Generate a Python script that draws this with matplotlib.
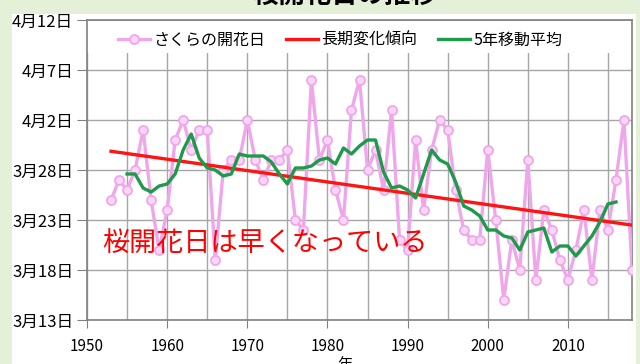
import numpy as np
import matplotlib
matplotlib.use("Agg")
import matplotlib.pyplot as plt
from matplotlib.patches import Rectangle
from matplotlib.lines import Line2D

plt.rcParams['font.family'] = ['Noto Sans CJK JP', 'DejaVu Sans']

# ── データ ─────────────────────────────────────────────
# 開花日は「3月の何日目か」で表す (4月2日 = 33)
years = list(range(1953, 2019))
bloom_day = [25, 27, 26, 28, 32, 25, 20, 24, 31, 33,
             30, 32, 32, 19, 28, 29, 29, 33, 29, 27,
             29, 29, 30, 23, 22, 37, 29, 31, 26, 23,
             34, 37, 28, 30, 26, 34, 21, 20, 31, 24,
             30, 33, 32, 26, 22, 21, 21, 30, 23, 15,
             21, 18, 29, 17, 24, 22, 19, 17, 20, 24,
             17, 24, 22, 27, 33, 18]

y_ticks = [13, 18, 23, 28, 33, 38, 43]
y_labels = ['3月13日', '3月18日', '3月23日', '3月28日', '4月2日', '4月7日', '4月12日']
x_ticks = [1950, 1960, 1970, 1980, 1990, 2000, 2010]

title = '桜開花日の推移'
note = '桜開花日は早くなっている'
names = ['さくらの開花日', '長期変化傾向', '5年移動平均']

pink = '#f0a6ea'
pink_face = '#f9d6f5'
red = '#ff1414'
green = '#1e9a4a'

# ── 計算 ─────────────────────────────────────────────
yr = np.array(years)
day = np.array(bloom_day, dtype=float)
coef = np.polyfit(yr, day, 1)
trend = np.polyval(coef, yr)
ma = np.convolve(day, np.ones(5) / 5, mode='valid')   # 中心5年移動平均
ma_years = yr[2:-2]

# ── 描画 ─────────────────────────────────────────────
fig = plt.figure(figsize=(6.4, 3.64), dpi=100, facecolor='#e4f0d8')
fig.patches.append(Rectangle((12 / 640, 0), 624 / 640, 1 - 14 / 364,
                             transform=fig.transFigure, facecolor='white',
                             edgecolor='none', zorder=-5))
ax = fig.add_axes([87 / 640, 1 - 320 / 364, 545 / 640, 300 / 364])
ax.set_zorder(3)
ax.set_facecolor('white')

ax.plot(yr, day, color=pink, lw=2.4, marker='o', ms=6.5,
        mfc=pink_face, mec=pink, mew=1.3, zorder=3)
ax.plot(yr, trend, color=red, lw=2.4, zorder=4)
ax.plot(ma_years, ma, color=green, lw=2.4, zorder=5)

ax.set_xlim(1950, 2018)
ax.set_ylim(13, 43)
ax.set_xticks(x_ticks)
ax.set_xticks(np.arange(1955, 2018, 10), minor=True)
ax.set_yticks(y_ticks)
ax.set_yticklabels(y_labels, fontsize=12)
ax.tick_params(axis='x', labelsize=11, length=6, color='#808080', pad=7)
ax.tick_params(axis='x', which='minor', length=0)
ax.tick_params(axis='y', length=7, color='#808080', pad=3)
ax.grid(True, which='both', color='#a6a6a6', lw=1, zorder=1)
ax.set_axisbelow(True)
for s in ax.spines.values():
    s.set_color('#808080')
    s.set_linewidth(1.2)

# 凡例の白い帯 (目盛線を隠す)
ax.axhspan(39.7, 42.9, facecolor='white', edgecolor='none', zorder=2)
handles = [Line2D([], [], color=pink, lw=2.4, marker='o', ms=6.5,
                  mfc=pink_face, mec=pink, mew=1.3),
           Line2D([], [], color=red, lw=2.4),
           Line2D([], [], color=green, lw=2.4)]
ax.legend(handles, names, loc='center', bbox_to_anchor=(0.465, 0.933),
          ncol=3, frameon=False, fontsize=11.5, handlelength=2.0,
          handletextpad=0.2, columnspacing=1.3)

ax.text(1951.9, 20.7, note, color='#ff0000', fontsize=19.5,
        va='center', ha='left', zorder=6)

fig.text(345 / 640, 1 - 3 / 364, title, fontsize=19, fontweight='bold',
         ha='center', va='baseline')
fig.text(345 / 640, 1 - 369 / 364, '年', fontsize=11, ha='center', va='baseline')

fig.savefig('out.png', dpi=100, facecolor=fig.get_facecolor())
